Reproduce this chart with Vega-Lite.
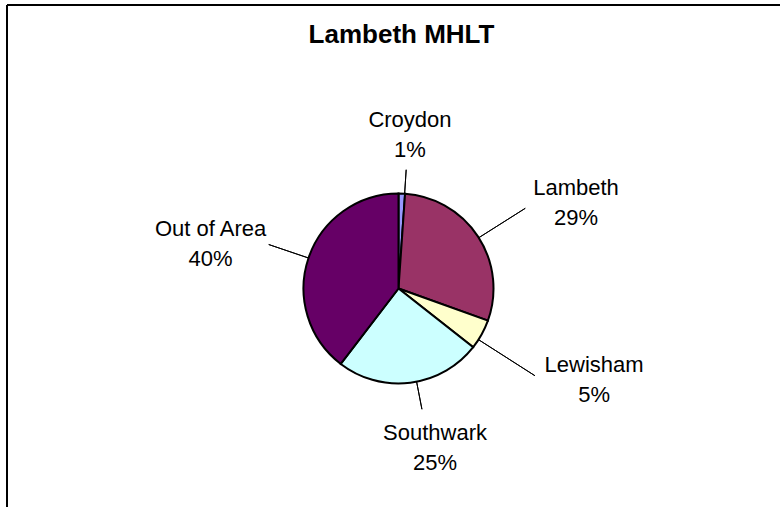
{
  "$schema": "https://vega.github.io/schema/vega-lite/v6.json",
  "width": 773,
  "height": 502,
  "autosize": "none",
  "padding": {"left": 7, "top": 5, "right": 0, "bottom": 0},
  "background": "white",
  "view": {"stroke": "black", "strokeWidth": 2, "strokeDash": [773, 1275, 502, 0]},
  "title": {"text": "Lambeth MHLT", "font": "Liberation Sans", "fontSize": 26, "fontWeight": "bold", "color": "black", "baseline": "alphabetic", "offset": -64, "dx": 8, "anchor": "middle"},
  "data": {"values": [
    {"category": "Croydon", "value": 0.011, "order": 1},
    {"category": "Lambeth", "value": 0.294, "order": 2},
    {"category": "Lewisham", "value": 0.051, "order": 3},
    {"category": "Southwark", "value": 0.248, "order": 4},
    {"category": "Out of Area", "value": 0.396, "order": 5}
  ]},
  "encoding": {
    "theta": {"field": "value", "type": "quantitative", "stack": true},
    "order": {"field": "order", "type": "quantitative"},
    "detail": {"field": "category", "type": "nominal"}
  },
  "layer": [
    {
      "mark": {"type": "arc", "radius": 95, "stroke": "black", "strokeWidth": 2, "xOffset": 5, "yOffset": 32.5},
      "encoding": {
        "color": {"field": "category", "type": "nominal", "legend": null,
          "scale": {"domain": ["Croydon", "Lambeth", "Lewisham", "Southwark", "Out of Area"],
                    "range": ["#9999FF", "#993366", "#FFFFCC", "#CCFFFF", "#660066"]}}
      }
    },
    {
      "mark": {"type": "arc", "radius": 119, "radius2": 95, "padAngle": 3, "filled": false, "stroke": "black", "strokeWidth": 1, "thetaOffset": 0.03, "theta2Offset": 0.03, "xOffset": 5, "yOffset": 32.5},
      "encoding": {"strokeOpacity": {"condition": {"test": "datum.category === 'Croydon'", "value": 1}, "value": 0}}
    },
    {
      "mark": {"type": "arc", "radius": 150, "radius2": 95, "padAngle": 3, "filled": false, "stroke": "black", "strokeWidth": 1, "thetaOffset": 0.014, "theta2Offset": 0.014, "xOffset": 5, "yOffset": 32.5},
      "encoding": {"strokeOpacity": {"condition": {"test": "datum.category === 'Lambeth'", "value": 1}, "value": 0}}
    },
    {
      "mark": {"type": "arc", "radius": 162, "radius2": 95, "padAngle": 3, "filled": false, "stroke": "black", "strokeWidth": 1, "thetaOffset": 0.063, "theta2Offset": 0.063, "xOffset": 5, "yOffset": 32.5},
      "encoding": {"strokeOpacity": {"condition": {"test": "datum.category === 'Lewisham'", "value": 1}, "value": 0}}
    },
    {
      "mark": {"type": "arc", "radius": 123, "radius2": 95, "padAngle": 3, "filled": false, "stroke": "black", "strokeWidth": 1, "thetaOffset": -0.066, "theta2Offset": -0.066, "xOffset": 5, "yOffset": 32.5},
      "encoding": {"strokeOpacity": {"condition": {"test": "datum.category === 'Southwark'", "value": 1}, "value": 0}}
    },
    {
      "mark": {"type": "arc", "radius": 137, "radius2": 95, "padAngle": 3, "filled": false, "stroke": "black", "strokeWidth": 1, "xOffset": 5, "yOffset": 32.5},
      "encoding": {"strokeOpacity": {"condition": {"test": "datum.category === 'Out of Area'", "value": 1}, "value": 0}}
    },
    {
      "mark": {"type": "text", "radius": 154, "thetaOffset": 0.04, "dy": -15, "xOffset": 5, "yOffset": 32.5, "font": "Liberation Sans", "fontSize": 22, "color": "black", "align": "center", "baseline": "middle"},
      "encoding": {"text": {"condition": {"test": "datum.category === 'Croydon'", "field": "category", "type": "nominal"}, "value": ""}}
    },
    {
      "mark": {"type": "text", "radius": 154, "thetaOffset": 0.04, "dy": 15, "xOffset": 5, "yOffset": 32.5, "font": "Liberation Sans", "fontSize": 22, "color": "black", "align": "center", "baseline": "middle"},
      "encoding": {"text": {"condition": {"test": "datum.category === 'Croydon'", "field": "value", "type": "quantitative", "format": ".0%"}, "value": ""}}
    },
    {
      "mark": {"type": "text", "radius": 197, "thetaOffset": 0.129, "dy": -15, "xOffset": 5, "yOffset": 32.5, "font": "Liberation Sans", "fontSize": 22, "color": "black", "align": "center", "baseline": "middle"},
      "encoding": {"text": {"condition": {"test": "datum.category === 'Lambeth'", "field": "category", "type": "nominal"}, "value": ""}}
    },
    {
      "mark": {"type": "text", "radius": 197, "thetaOffset": 0.129, "dy": 15, "xOffset": 5, "yOffset": 32.5, "font": "Liberation Sans", "fontSize": 22, "color": "black", "align": "center", "baseline": "middle"},
      "encoding": {"text": {"condition": {"test": "datum.category === 'Lambeth'", "field": "value", "type": "quantitative", "format": ".0%"}, "value": ""}}
    },
    {
      "mark": {"type": "text", "radius": 216, "thetaOffset": -0.068, "dy": -15, "xOffset": 5, "yOffset": 32.5, "font": "Liberation Sans", "fontSize": 22, "color": "black", "align": "center", "baseline": "middle"},
      "encoding": {"text": {"condition": {"test": "datum.category === 'Lewisham'", "field": "category", "type": "nominal"}, "value": ""}}
    },
    {
      "mark": {"type": "text", "radius": 216, "thetaOffset": -0.068, "dy": 15, "xOffset": 5, "yOffset": 32.5, "font": "Liberation Sans", "fontSize": 22, "color": "black", "align": "center", "baseline": "middle"},
      "encoding": {"text": {"condition": {"test": "datum.category === 'Lewisham'", "field": "value", "type": "quantitative", "format": ".0%"}, "value": ""}}
    },
    {
      "mark": {"type": "text", "radius": 164, "thetaOffset": -0.099, "dy": -15, "xOffset": 5, "yOffset": 32.5, "font": "Liberation Sans", "fontSize": 22, "color": "black", "align": "center", "baseline": "middle"},
      "encoding": {"text": {"condition": {"test": "datum.category === 'Southwark'", "field": "category", "type": "nominal"}, "value": ""}}
    },
    {
      "mark": {"type": "text", "radius": 164, "thetaOffset": -0.099, "dy": 15, "xOffset": 5, "yOffset": 32.5, "font": "Liberation Sans", "fontSize": 22, "color": "black", "align": "center", "baseline": "middle"},
      "encoding": {"text": {"condition": {"test": "datum.category === 'Southwark'", "field": "value", "type": "quantitative", "format": ".0%"}, "value": ""}}
    },
    {
      "mark": {"type": "text", "radius": 193, "thetaOffset": -0.096, "dy": -15, "xOffset": 5, "yOffset": 32.5, "font": "Liberation Sans", "fontSize": 22, "color": "black", "align": "center", "baseline": "middle"},
      "encoding": {"text": {"condition": {"test": "datum.category === 'Out of Area'", "field": "category", "type": "nominal"}, "value": ""}}
    },
    {
      "mark": {"type": "text", "radius": 193, "thetaOffset": -0.096, "dy": 15, "xOffset": 5, "yOffset": 32.5, "font": "Liberation Sans", "fontSize": 22, "color": "black", "align": "center", "baseline": "middle"},
      "encoding": {"text": {"condition": {"test": "datum.category === 'Out of Area'", "field": "value", "type": "quantitative", "format": ".0%"}, "value": ""}}
    }
  ]
}
